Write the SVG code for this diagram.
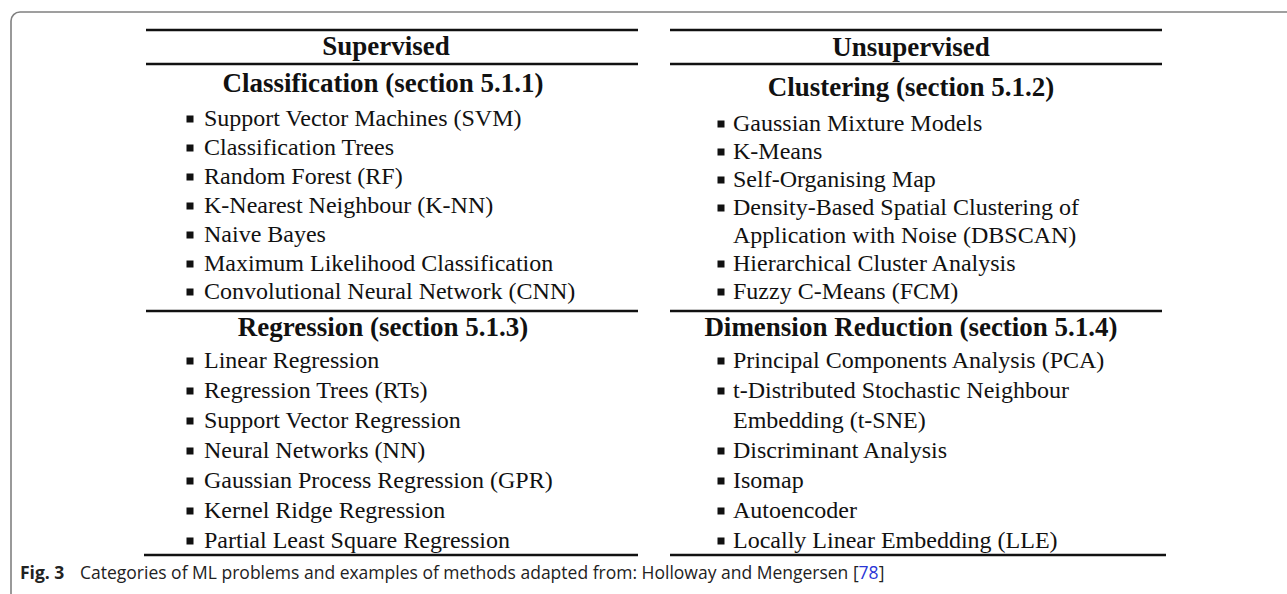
<svg xmlns="http://www.w3.org/2000/svg" width="1287" height="594" viewBox="0 0 1287 594">
  <style>
    .rule { stroke: #111; stroke-width: 2.6; fill: none; }
    .head { font-family: "Liberation Serif", "Times New Roman", serif; font-weight: bold; font-size: 27px; fill: #111; text-anchor: middle; }
    .item { font-family: "Liberation Serif", "Times New Roman", serif; font-size: 24px; fill: #111; }
    .cap { font-family: "Open Sans", "Noto Sans", sans-serif; font-size: 17.5px; fill: #222; }
    .capb { font-weight: bold; }
    .ref { fill: #2a35d6; }
  </style>
  <defs>
    <rect id="bullet" x="-3.5" y="-3.5" width="7" height="7" fill="#111"/>
  </defs>

  <rect width="1287" height="594" fill="#fff"/>
  <!-- panel frame, running off the right and bottom edges -->
  <rect x="11" y="12" width="1300" height="620" rx="9" fill="none" stroke="#808080" stroke-width="1.6"/>

  <!-- table rules -->
  <g id="rules">
    <line class="rule" x1="146" y1="30" x2="638" y2="30"/>
    <line class="rule" x1="146" y1="64" x2="638" y2="64"/>
    <line class="rule" x1="146" y1="311" x2="638" y2="311"/>
    <line class="rule" x1="144" y1="555" x2="638" y2="555"/>
    <line class="rule" x1="670" y1="30" x2="1162" y2="30"/>
    <line class="rule" x1="670" y1="64" x2="1162" y2="64"/>
    <line class="rule" x1="670" y1="311" x2="1162" y2="311"/>
    <line class="rule" x1="670" y1="555" x2="1166" y2="555"/>
  </g>

  <g id="supervised">
    <text class="head" x="386" y="55">Supervised</text>
  </g>
  <g id="unsupervised">
    <text class="head" x="911" y="56">Unsupervised</text>
  </g>

  <g id="classification">
    <text class="head" x="383" y="92">Classification (section 5.1.1)</text>
    <g class="item">
      <use href="#bullet" x="190" y="119"/><text x="204" y="126">Support Vector Machines (SVM)</text>
      <use href="#bullet" x="190" y="148"/><text x="204" y="155">Classification Trees</text>
      <use href="#bullet" x="190" y="177"/><text x="204" y="184">Random Forest (RF)</text>
      <use href="#bullet" x="190" y="206"/><text x="204" y="213">K-Nearest Neighbour (K-NN)</text>
      <use href="#bullet" x="190" y="235"/><text x="204" y="242">Naive Bayes</text>
      <use href="#bullet" x="190" y="264"/><text x="204" y="271">Maximum Likelihood Classification</text>
      <use href="#bullet" x="190" y="292"/><text x="204" y="299">Convolutional Neural Network (CNN)</text>
    </g>
  </g>

  <g id="clustering">
    <text class="head" x="911" y="96">Clustering (section 5.1.2)</text>
    <g class="item">
      <use href="#bullet" x="721" y="124"/><text x="733" y="131">Gaussian Mixture Models</text>
      <use href="#bullet" x="721" y="152"/><text x="733" y="159">K-Means</text>
      <use href="#bullet" x="721" y="180"/><text x="733" y="187">Self-Organising Map</text>
      <use href="#bullet" x="721" y="208"/><text x="733" y="215">Density-Based Spatial Clustering of</text>
      <text x="733" y="243">Application with Noise (DBSCAN)</text>
      <use href="#bullet" x="721" y="264"/><text x="733" y="271">Hierarchical Cluster Analysis</text>
      <use href="#bullet" x="721" y="292"/><text x="733" y="299">Fuzzy C-Means (FCM)</text>
    </g>
  </g>

  <g id="regression">
    <text class="head" x="383" y="336">Regression (section 5.1.3)</text>
    <g class="item">
      <use href="#bullet" x="190" y="361"/><text x="204" y="368">Linear Regression</text>
      <use href="#bullet" x="190" y="391"/><text x="204" y="398">Regression Trees (RTs)</text>
      <use href="#bullet" x="190" y="421"/><text x="204" y="428">Support Vector Regression</text>
      <use href="#bullet" x="190" y="451"/><text x="204" y="458">Neural Networks (NN)</text>
      <use href="#bullet" x="190" y="481"/><text x="204" y="488">Gaussian Process Regression (GPR)</text>
      <use href="#bullet" x="190" y="511"/><text x="204" y="518">Kernel Ridge Regression</text>
      <use href="#bullet" x="190" y="541"/><text x="204" y="548">Partial Least Square Regression</text>
    </g>
  </g>

  <g id="dimension-reduction">
    <text class="head" x="911" y="336">Dimension Reduction (section 5.1.4)</text>
    <g class="item">
      <use href="#bullet" x="721" y="361"/><text x="733" y="368">Principal Components Analysis (PCA)</text>
      <use href="#bullet" x="721" y="391"/><text x="733" y="398">t-Distributed Stochastic Neighbour</text>
      <text x="733" y="428">Embedding (t-SNE)</text>
      <use href="#bullet" x="721" y="451"/><text x="733" y="458">Discriminant Analysis</text>
      <use href="#bullet" x="721" y="481"/><text x="733" y="488">Isomap</text>
      <use href="#bullet" x="721" y="511"/><text x="733" y="518">Autoencoder</text>
      <use href="#bullet" x="721" y="541"/><text x="733" y="548">Locally Linear Embedding (LLE)</text>
    </g>
  </g>

  <g id="caption">
    <text class="cap" y="579"><tspan class="capb" x="20">Fig. 3</tspan><tspan x="80">Categories of ML problems and examples of methods adapted from: Holloway and Mengersen [</tspan><tspan class="ref">78</tspan><tspan>]</tspan></text>
  </g>
</svg>
